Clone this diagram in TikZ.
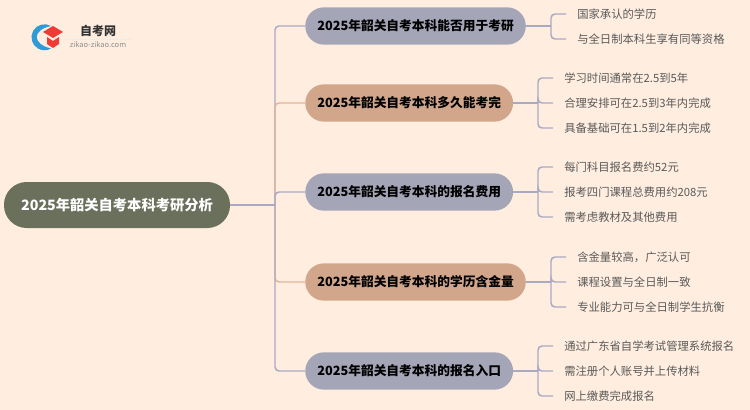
\documentclass[tikz,border=0pt]{standalone}
\usepackage{fontspec}
\setmainfont{Noto Sans CJK SC}
\usepackage{xcolor}
\usepackage{tikz}
\usetikzlibrary{positioning}
\definecolor{paper}{HTML}{FFEEE0}
\definecolor{rootgreen}{HTML}{6B705C}
\definecolor{slate}{HTML}{A5A5B8}
\definecolor{clay}{HTML}{D2A68B}
\definecolor{slateline}{HTML}{A9A9C4}
\definecolor{clayline}{HTML}{E0B498}
\definecolor{leafgrey}{HTML}{595959}
\definecolor{logoblue}{HTML}{2E9AD6}
\definecolor{logored}{HTML}{EE3B36}
\tikzset{
  rootbox/.style={fill=rootgreen, text=white, rounded corners=17pt, minimum height=34.5pt, minimum width=169.5pt, font=\fontsize{10.7pt}{13pt}\selectfont\bfseries, inner sep=0pt},
  topicbox/.style={anchor=west, rounded corners=14pt, minimum height=28pt, inner xsep=9pt, inner ysep=0pt, text=black, font=\fontsize{9.55pt}{12pt}\selectfont\bfseries},
  leafbox/.style={anchor=west, text=leafgrey, inner xsep=8.25pt, inner ysep=0pt, font=\fontsize{8.5pt}{11pt}\selectfont},
  link/.style={line width=1.1pt, rounded corners=3pt}
}

\begin{document}
\begin{tikzpicture}[x=0.75pt, y=-0.75pt]
\fill[paper] (0,0) rectangle (750,410);
\useasboundingbox (0,0) rectangle (750,410);

% logo
\fill[logoblue] (51,26) arc (-60:-300:13) .. controls (32,44) and (32,30) .. cycle;
\fill[logored] (43,32) -- (53,26) -- (63,32) -- (53,38) -- cycle;
\fill[logored] (47,37) -- (53,41) -- (59,37) -- (59,44) -- (53,48) -- (47,44) -- cycle;
\draw[black!8, line width=0.5pt] (65,39) -- (131,39);
\node[font=\fontsize{9pt}{11pt}\selectfont\bfseries, text=black!80, inner sep=0pt] (logotitle) at (98,31) {自考网};
\node[font=\fontsize{5.6pt}{7pt}\selectfont, text=black!45, inner sep=0pt] (logourl) at (98,45) {zikao-zikao.com};

\node[rootbox] (root) at (117,205) {2025年韶关自考本科考研分析};

\node[topicbox, fill=slate] (topicA) at (305,26) {2025年韶关自考本科能否用于考研};
\node[topicbox, fill=clay] (topicB) at (305,103) {2025年韶关自考本科多久能考完};
\node[topicbox, fill=slate] (topicC) at (305,192) {2025年韶关自考本科的报名费用};
\node[topicbox, fill=clay] (topicD) at (305,282) {2025年韶关自考本科的学历含金量};
\node[topicbox, fill=slate] (topicE) at (305,371) {2025年韶关自考本科的报名入口};

\node[leafbox] (leafA1) at (566,14) {国家承认的学历};
\node[leafbox] (leafA2) at (566,39) {与全日制本科生享有同等资格};

\node[leafbox] (leafB1) at (553,78) {学习时间通常在2.5到5年};
\node[leafbox] (leafB2) at (553,103) {合理安排可在2.5到3年内完成};
\node[leafbox] (leafB3) at (553,128) {具备基础可在1.5到2年内完成};

\node[leafbox] (leafC1) at (553,167) {每门科目报名费约52元};
\node[leafbox] (leafC2) at (553,192) {报考四门课程总费用约208元};
\node[leafbox] (leafC3) at (553,217) {需考虑教材及其他费用};

\node[leafbox] (leafD1) at (566,257) {含金量较高，广泛认可};
\node[leafbox] (leafD2) at (566,282) {课程设置与全日制一致};
\node[leafbox] (leafD3) at (566,307) {专业能力可与全日制学生抗衡};

\node[leafbox] (leafE1) at (553,346) {通过广东省自学考试管理系统报名};
\node[leafbox] (leafE2) at (553,371) {需注册个人账号并上传材料};
\node[leafbox] (leafE3) at (553,396) {网上缴费完成报名};

\coordinate (trunk) at (275,205);
\coordinate (forkA) at (551,26);
\coordinate (forkB) at (538,103);
\coordinate (forkC) at (538,192);
\coordinate (forkD) at (551,282);
\coordinate (forkE) at (538,371);

\draw[link, slateline] (trunk) |- (topicA.west);
\draw[link, clayline] (trunk) |- (topicB.west);
\draw[link, slateline] (trunk) |- (topicC.west);
\draw[link, clayline] (trunk) |- (topicD.west);
\draw[link, slateline] (trunk) |- (topicE.west);
\draw[link, slateline] (root.east) -- (trunk);

\foreach \t/\f in {topicA/forkA, topicB/forkB, topicC/forkC, topicD/forkD, topicE/forkE}
{
    \draw[link, slateline] (\t.east) -- (\f);
}

\foreach \f/\l in {forkA/leafA1, forkA/leafA2,
  forkB/leafB1, forkB/leafB2, forkB/leafB3,
  forkC/leafC1, forkC/leafC2, forkC/leafC3,
  forkD/leafD1, forkD/leafD2, forkD/leafD3,
  forkE/leafE1, forkE/leafE2, forkE/leafE3}
{
    \draw[link, slateline] (\f) |- (\l.west);
}
\end{tikzpicture}
\end{document}
